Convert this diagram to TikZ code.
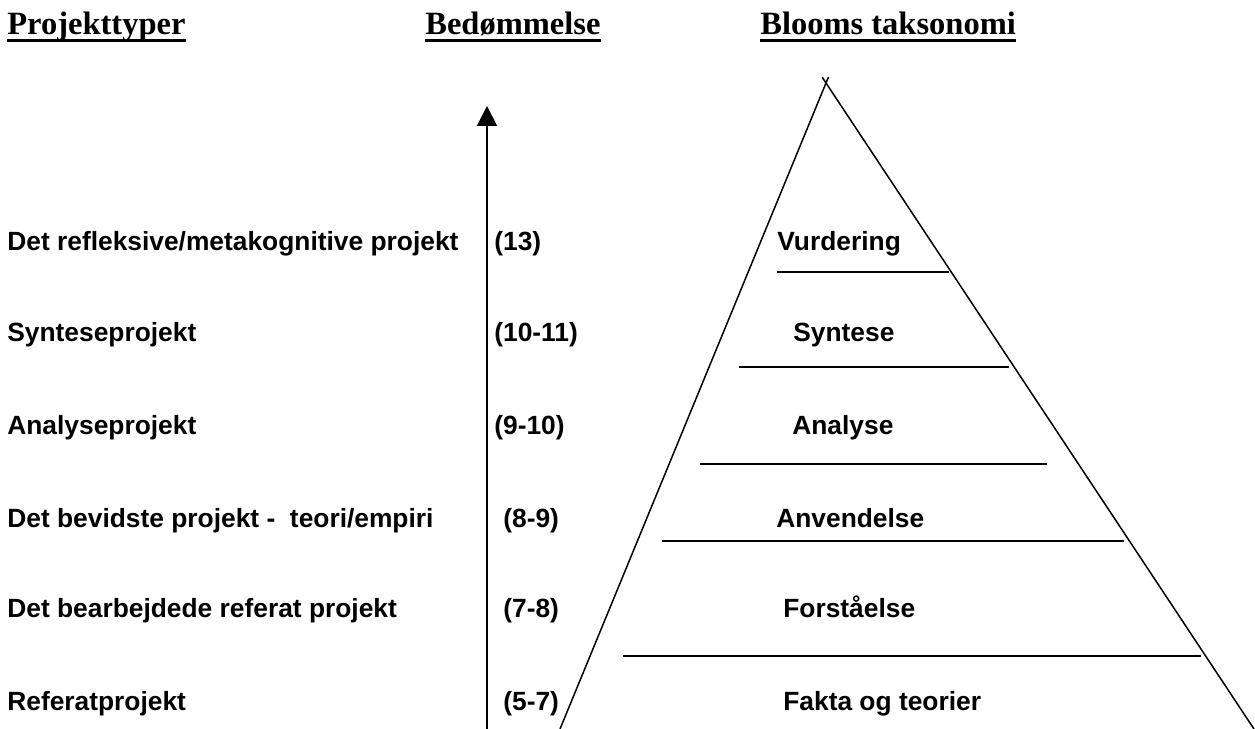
\documentclass[tikz,border=0pt]{standalone}
\usepackage{fontspec}
\setmainfont{Liberation Sans}
\newfontfamily\headfont{Liberation Serif}
\usepackage{tikz}
\usetikzlibrary{arrows.meta, calc}

\begin{document}
\begin{tikzpicture}[
  x=0.02cm, y=-0.02cm,
  head/.style={
    anchor=base west, inner sep=0pt,
    font=\headfont\bfseries\fontsize{18.5}{22}\selectfont
  },
  lbl/.style={
    anchor=base west, inner sep=0pt,
    font=\bfseries\fontsize{15}{18}\selectfont
  },
  uline/.style={line width=0.06cm},
  axis/.style={line width=0.04cm, -{Triangle[length=0.4cm, width=0.4cm]}},
  side/.style={line width=0.03cm},
  level/.style={line width=0.04cm},
]
\useasboundingbox (0,0) rectangle (1255,729);

%% ---- Headers (baseline y = 35) ----
\node[head] (hproj)  at (7,35)   {Projekttyper};
\node[head] (hbed)   at (425,35) {Bedømmelse};
\node[head] (hbloom) at (760,35) {Blooms taksonomi};
\foreach \h in {hproj, hbed, hbloom}{
  \draw[uline] ($(\h.base west)+(0,6)$) -- ($(\h.base east)+(0,6)$);
}

%% ---- Project types ----
\node[lbl] (p6) at (7,251) {Det refleksive/metakognitive projekt};
\node[lbl] (p5) at (7,342) {Synteseprojekt};
\node[lbl] (p4) at (7,435) {Analyseprojekt};
\node[lbl] (p3) at (7,528) {Det bevidste projekt -\ \ teori/empiri};
\node[lbl] (p2) at (7,618) {Det bearbejdede referat projekt};
\node[lbl] (p1) at (7,710) {Referatprojekt};

%% ---- Grades ----
\node[lbl] (g6) at (494,251) {(13)};
\node[lbl] (g5) at (494,342) {(10-11)};
\node[lbl] (g4) at (494,435) {(9-10)};
\node[lbl] (g3) at (503,528) {(8-9)};
\node[lbl] (g2) at (503,618) {(7-8)};
\node[lbl] (g1) at (503,710) {(5-7)};

%% ---- Grade axis ----
\coordinate (axbot) at (487,729);
\coordinate (axtop) at (487,106);
\draw[axis] (axbot) -- (axtop);

%% ---- Pyramid ----
\coordinate (apex) at (826,83);
\coordinate (bl) at (560,729);
\coordinate (br) at (1254,729);
\draw[side] (bl) -- ($(bl)!1.009!(apex)$);
\draw[side] (br) -- ($(br)!1.009!(apex)$);

\draw[level] (777,272) -- (949,272);
\draw[level] (739,367) -- (1009,367);
\draw[level] (700,464) -- (1047,464);
\draw[level] (662,541) -- (1124,541);
\draw[level] (623,656) -- (1201,656);

%% ---- Bloom levels ----
\node[lbl] (b6) at (777,251) {Vurdering};
\node[lbl] (b5) at (793,342) {Syntese};
\node[lbl] (b4) at (792,435) {Analyse};
\node[lbl] (b3) at (776,528) {Anvendelse};
\node[lbl] (b2) at (783,618) {Forståelse};
\node[lbl] (b1) at (783,710) {Fakta og teorier};

\end{tikzpicture}
\end{document}
